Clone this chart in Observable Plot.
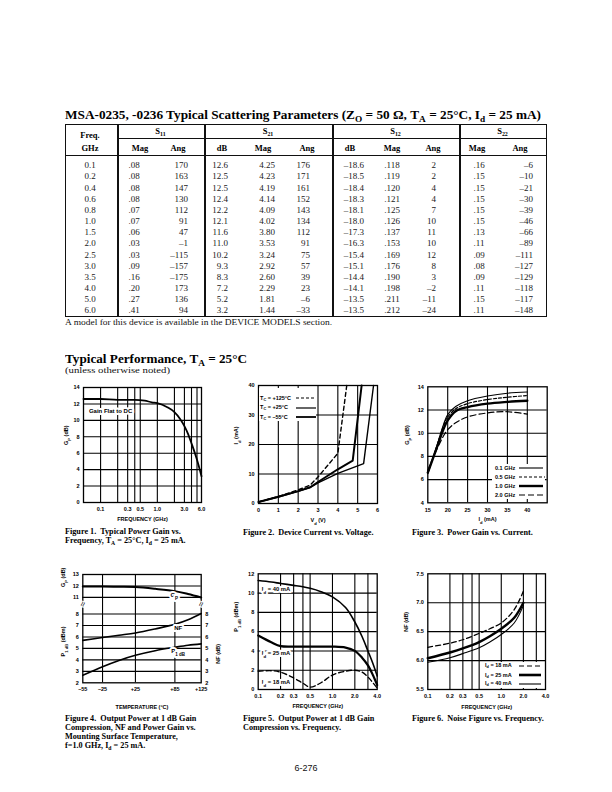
<!DOCTYPE html>
<html><head><meta charset="utf-8">
<script src="https://cdn.jsdelivr.net/npm/d3@7"></script>
<script src="https://cdn.jsdelivr.net/npm/@observablehq/plot@0.6"></script>
<style>
body{margin:0;background:#fff;}
#page{position:relative;width:612px;height:792px;overflow:hidden;background:#fff;color:#111;}
.abs{position:absolute;white-space:nowrap;}
.serif{font-family:"Liberation Serif","Times New Roman",serif;}
.bold{font-weight:bold;}
.ln{position:absolute;background:#111;}
sub{font-size:70%;vertical-align:baseline;position:relative;top:0.3em;}
.legend{position:absolute;background:#fff;font-family:"Liberation Sans",Arial,sans-serif;font-weight:bold;font-size:5.5px;color:#000;}
.legend div{position:absolute;white-space:nowrap;line-height:7px;}
</style></head><body><div id="page"></div>
<script>
// ---------- Table data ----------
const freqs  = [0.1,0.2,0.4,0.6,0.8,1.0,1.5,2.0,2.5,3.0,3.5,4.0,5.0,6.0];
const s11Mag = [.08,.08,.08,.08,.07,.07,.06,.03,.03,.09,.16,.20,.27,.41];
const s11Ang = [170,163,147,130,112,91,47,-1,-115,-157,-175,173,136,94];
const s21dB  = [12.6,12.5,12.5,12.4,12.2,12.1,11.6,11.0,10.2,9.3,8.3,7.2,5.2,3.2];
const s21Mag = [4.25,4.23,4.19,4.14,4.09,4.02,3.80,3.53,3.24,2.92,2.60,2.29,1.81,1.44];
const s21Ang = [176,171,161,152,143,134,112,91,75,57,39,23,-6,-33];
const s12dB  = [-18.6,-18.5,-18.4,-18.3,-18.1,-18.0,-17.3,-16.3,-15.4,-15.1,-14.4,-14.1,-13.5,-13.5];
const s12Mag = [.118,.119,.120,.121,.125,.126,.137,.153,.169,.176,.190,.198,.211,.212];
const s12Ang = [2,2,4,4,7,10,11,10,12,8,3,-2,-11,-24];
const s22Mag = [.16,.15,.15,.15,.15,.15,.13,.11,.09,.08,.09,.11,.15,.11];
const s22Ang = [-6,-10,-21,-30,-39,-46,-66,-89,-111,-127,-129,-118,-117,-148];

// ---------- Figure 1: Gain vs frequency ----------
const fig1Freq = [0.05, ...freqs];
const fig1Gain = [12.6, ...s21dB];
const fig1TicksX = [0.1,0.3,0.5,1.0,3.0,6.0];
const fig1GridX = [0.1,0.2,0.3,0.4,0.5,1,2,3,4,5];
const fig1TicksY = [0,2,4,6,8,10,12,14];

// ---------- Figure 2: Id vs Vd ----------
const fig2V125 = [0,1,2,2.6,3,3.5,4.0,4.45];
const fig2I125 = [0.5,2.4,4.6,6.2,9.0,13.0,17.0,40];
const fig2V25  = [0,1,2,2.6,3,4,4.75,5.2];
const fig2I25  = [0.5,2.3,4.2,5.5,7.3,11.6,14.5,40];
const fig2V55  = [0,1,2,2.6,3,4,5.3,5.8];
const fig2I55  = [0.5,2.2,4.1,5.4,7.0,10.2,13.5,40];
const fig2TicksX = [0,1,2,3,4,5,6];
const fig2TicksY = [0,10,20,30,40];

// ---------- Figure 3: Gp vs Id ----------
const fig3Id  = [15,17,19,20,22,25,30,35,40];
const fig3G01 = [6.5,8.6,10.8,11.6,12.3,12.8,13.2,13.45,13.55];
const fig3G05 = [6.6,8.6,10.7,11.4,12.1,12.55,12.9,13.1,13.25];
const fig3G10 = [6.6,8.5,10.4,11.1,11.9,12.25,12.55,12.7,12.8];
const fig3G20 = [6.8,8.4,9.8,10.3,10.9,11.4,11.75,11.85,11.65];
const fig3TicksX = [15,20,25,30,35,40];
const fig3TicksY = [4,6,8,10,12,14];

// ---------- Figure 4: vs temperature ----------
const fig4Temp = [-55,-25,0,25,55,85,105,125];
const fig4Gp   = [11.95,11.95,11.93,11.9,11.75,11.55,11.3,11.0];
const fig4NF   = [5.7,5.95,6.15,6.35,6.7,7.1,7.5,8.05];
const fig4P1   = [2.65,3.4,3.95,4.4,4.8,5.1,5.28,5.4];
const fig4TicksX = [-55,-25,25,85,125];
const fig4TicksLow = [2,3,4,5,6,7,8];
const fig4TicksGp = [11,12,13];
const GP_SHIFT = 1.55; // axis break offset for the Gp section

// ---------- Figure 5: P1dB vs frequency ----------
const fig5Freq = [0.1,0.15,0.2,0.3,0.4,0.5,0.7,1.0,1.5,2.0,2.5,3.0,3.5,4.0];
const fig5P40  = [11.3,11.15,11.0,10.8,10.65,10.5,10.15,9.6,8.5,7.0,5.5,4.0,2.7,1.4];
const fig5P25  = [5.6,4.9,4.5,4.45,4.45,4.45,4.45,4.45,4.35,4.0,3.3,2.5,1.5,0.45];
const fig5P18  = [1.9,1.95,1.8,1.2,0.65,0.25,0.7,1.5,1.9,2.0,1.8,1.3,0.7,0.15];
const logTicks = [0.1,0.2,0.3,0.5,1.0,2.0,4.0];
const logGrid  = [0.2,0.3,0.4,0.5,1,2,3];
const fig5TicksY = [0,2,4,6,8,10,12];

// ---------- Figure 6: NF vs frequency ----------
const fig6Freq = [0.1,0.2,0.3,0.5,0.7,1.0,1.5,2.0];
const fig6NF18 = [6.23,6.3,6.36,6.47,6.55,6.65,6.88,7.2];
const fig6NF25 = [6.04,6.14,6.21,6.32,6.42,6.55,6.74,7.0];
const fig6NF40 = [5.97,6.05,6.12,6.22,6.32,6.45,6.65,6.95];
const fig6TicksY = [5.5,6.0,6.5,7.0,7.5];

// ================= rendering =================
const page = document.getElementById("page");
const FONT = '"Liberation Sans", Arial, Helvetica, sans-serif';
const STYLE = {fontFamily: FONT, fontSize: "5.5px", fontWeight: "bold", background: "transparent", overflow: "visible", color: "#000"};
const G = {stroke: "#000", strokeWidth: 1.1};
const zip = (xs, ys) => xs.map((x, i) => ({x, y: ys[i]}));
// tick labels along the bottom of a log axis, drawn as text at the scale positions
const logAxisX = ticks => Plot.text(ticks, {x: d => d, text: d => d.toFixed(1), frameAnchor: "bottom", dy: 8, fill: "#000"});

function html(cls, left, top, inner, extra = "") {
  const d = document.createElement("div");
  d.className = "abs " + cls;
  d.style.left = left + "px"; d.style.top = top + "px";
  d.style.cssText += extra;
  d.innerHTML = inner;
  page.appendChild(d);
  return d;
}
function fit(el, w) {
  const cw = el.getBoundingClientRect().width;
  if (!cw) return;
  el.style.transformOrigin = "0 50%";
  el.style.transform = `scaleX(${w / cw})`;
}
function rule(x, y, w, h) {
  const d = document.createElement("div");
  d.className = "ln";
  Object.assign(d.style, {left: x + "px", top: y + "px", width: w + "px", height: h + "px"});
  page.appendChild(d);
}
function subify(svg) {
  svg.querySelectorAll("text, tspan").forEach(t => {
    if (t.children.length) return;
    const s = t.textContent;
    if (!s.includes("_{")) return;
    t.textContent = "";
    const re = /_\{([^}]*)\}/g; let last = 0, m;
    while ((m = re.exec(s))) {
      if (m.index > last) t.appendChild(document.createTextNode(s.slice(last, m.index)));
      const ts = document.createElementNS("http://www.w3.org/2000/svg", "tspan");
      ts.setAttribute("baseline-shift", "sub");
      ts.setAttribute("font-size", "75%");
      ts.textContent = m[1];
      t.appendChild(ts);
      last = re.lastIndex;
    }
    if (last < s.length) t.appendChild(document.createTextNode(s.slice(last)));
  });
}
function place(svg, left, top) {
  svg.style.position = "absolute";
  svg.style.left = left + "px"; svg.style.top = top + "px";
  subify(svg);
  page.appendChild(svg);
}
function legend(left, top, w, h, rows) {
  const box = document.createElement("div");
  box.className = "legend";
  Object.assign(box.style, {left: left + "px", top: top + "px", width: w + "px", height: h + "px"});
  rows.forEach(r => {
    const t = document.createElement("div");
    t.style.left = r.tx + "px"; t.style.top = (r.y - 3.5) + "px";
    t.innerHTML = r.label;
    box.appendChild(t);
    const s = document.createElementNS("http://www.w3.org/2000/svg", "svg");
    s.setAttribute("width", r.lw); s.setAttribute("height", 6);
    s.style.position = "absolute"; s.style.left = r.lx + "px"; s.style.top = (r.y - 3) + "px";
    s.innerHTML = `<line x1="0" y1="3" x2="${r.lw}" y2="3" stroke="#000" stroke-width="${r.sw}" ${r.dash ? `stroke-dasharray="${r.dash}"` : ""}/>`;
    box.appendChild(s);
  });
  page.appendChild(box);
}

// ---------- Title ----------
const title = html("serif bold", 65, 108, "MSA-0235, -0236 Typical Scattering Parameters (Z<sub>O</sub> = 50 Ω, T<sub>A</sub> = 25°C, I<sub>d</sub> = 25 mA)", "font-size:12.5px;line-height:15px;color:#000;");

// ---------- Table ----------
const TOP = 124, BOT = 316, L = 65, R = 546;
rule(L, TOP, R - L, 1.3); rule(L, BOT, R - L + 1, 1.3);
rule(L, TOP, 1.2, BOT - TOP); rule(R, TOP, 1.2, BOT - TOP);
[117, 204, 332, 459].forEach(x => rule(x, TOP, 1.5, BOT - TOP));
rule(117, 138, R - 117, 0.9);
rule(L, 154.5, R - L, 1.5);

const hdr = (x, y, t) => html("serif bold", x - 40, y - 6, t, "width:80px;text-align:center;font-size:8.5px;line-height:12px;color:#000;");
hdr(90, 134.5, "Freq."); hdr(90, 147.5, "GHz");
hdr(160.5, 131, "S<sub>11</sub>"); hdr(268, 131, "S<sub>21</sub>"); hdr(395.5, 131, "S<sub>12</sub>"); hdr(502.5, 131, "S<sub>22</sub>");
[[140,"Mag"],[178,"Ang"],[222,"dB"],[263,"Mag"],[307,"Ang"],[350,"dB"],[392,"Mag"],[433,"Ang"],[477,"Mag"],[520,"Ang"]].forEach(([x,t]) => hdr(x, 147.5, t));

const neg = v => (v < 0 ? "–" : "") + Math.abs(v);
const ang = v => neg(v);
const db = v => (v < 0 ? "–" : "") + Math.abs(v).toFixed(1);
const mag2 = v => v.toFixed(2).slice(1);
const mag3 = v => v.toFixed(3).slice(1);
const cols = [
  {v: freqs, f: d => d.toFixed(1), x: 90, a: "c"},
  {v: s11Mag, f: mag2, x: 134, a: "c"},
  {v: s11Ang, f: ang, x: 188, a: "r"},
  {v: s21dB, f: db, x: 228, a: "r"},
  {v: s21Mag, f: d => d.toFixed(2), x: 267, a: "c"},
  {v: s21Ang, f: ang, x: 310, a: "r"},
  {v: s12dB, f: db, x: 364, a: "r"},
  {v: s12Mag, f: mag3, x: 392, a: "c"},
  {v: s12Ang, f: ang, x: 436, a: "r"},
  {v: s22Mag, f: mag2, x: 479, a: "c"},
  {v: s22Ang, f: ang, x: 533, a: "r"},
];
cols.forEach(c => c.v.forEach((v, i) => {
  const y = 165.3 + i * 11.15;
  const left = c.a === "c" ? c.x - 40 : c.x - 80;
  html("serif", left, y - 6, c.f(v), `width:80px;text-align:${c.a === "c" ? "center" : "right"};font-size:9px;line-height:12px;color:#1a1a1a;`);
}));
const note = html("serif", 65, 316.5, "A model for this device is available in the DEVICE MODELS section.", "font-size:8.6px;line-height:11px;");

// ---------- Section heading ----------
const sec = html("serif bold", 65, 352, "Typical Performance, T<sub>A</sub> = 25°C", "font-size:12.5px;line-height:15px;color:#000;");
const sub1 = html("serif", 65, 365, "(unless otherwise noted)", "font-size:8.8px;line-height:11px;");

// ---------- Figure 1 ----------
place(Plot.plot({
  width: 155, height: 145, marginLeft: 28, marginRight: 9, marginTop: 7, marginBottom: 23,
  style: STYLE,
  x: {type: "log", domain: [0.05, 6], axis: null}, y: {domain: [0, 14]},
  marks: [
    Plot.ruleX(fig1GridX, G),
    Plot.ruleY(fig1TicksY.slice(1, -1), G),
    Plot.text(["Gain Flat to DC"], {x: 0.15, y: 11.1, fontSize: 6, fill: "#000", stroke: "#fff", strokeWidth: 4, paintOrder: "stroke"}),
    Plot.line(zip(fig1Freq, fig1Gain), {x: "x", y: "y", curve: "monotone-x", stroke: "#000", strokeWidth: 1.8}),
    Plot.frame({stroke: "#000", strokeWidth: 1.3}),
    logAxisX(fig1TicksX),
    Plot.axisY(fig1TicksY, {tickSize: 0, tickPadding: 4, label: null}),
    Plot.text(["FREQUENCY (GHz)"], {frameAnchor: "bottom", dy: 18}),
    Plot.text(["G_{P} (dB)"], {frameAnchor: "left", rotate: -90, dx: -17})
  ]
}), 55, 380);

// ---------- Figure 2 ----------
place(Plot.plot({
  width: 155, height: 147, marginLeft: 30, marginRight: 6, marginTop: 7, marginBottom: 22,
  style: STYLE,
  x: {domain: [0, 6]}, y: {domain: [0, 40]},
  marks: [
    Plot.ruleX(fig2TicksX.slice(1, -1), G),
    Plot.ruleY(fig2TicksY.slice(1, -1), G),
    Plot.line(zip(fig2V125, fig2I125), {x: "x", y: "y", stroke: "#000", strokeWidth: 1.4, strokeDasharray: "4,3"}),
    Plot.line(zip(fig2V55, fig2I55), {x: "x", y: "y", stroke: "#000", strokeWidth: 1.4}),
    Plot.line(zip(fig2V25, fig2I25), {x: "x", y: "y", stroke: "#000", strokeWidth: 2}),
    Plot.frame({stroke: "#000", strokeWidth: 1.3}),
    Plot.axisX(fig2TicksX, {tickSize: 0, tickPadding: 5, label: null}),
    Plot.axisY(fig2TicksY, {tickSize: 0, tickPadding: 4, label: null}),
    Plot.text(["V_{d} (V)"], {frameAnchor: "bottom", dy: 18}),
    Plot.text(["I_{d} (mA)"], {frameAnchor: "left", rotate: -90, dx: -22})
  ]
}), 228, 378);
legend(259, 388, 57, 33, [
  {label: "T<sub>C</sub> = +125°C", tx: 1, y: 10, lx: 37, lw: 20, sw: 1.2, dash: "3,2"},
  {label: "T<sub>C</sub> = +25°C", tx: 1, y: 19.5, lx: 37, lw: 20, sw: 1.2},
  {label: "T<sub>C</sub> = –55°C", tx: 1, y: 29, lx: 37, lw: 20, sw: 1.8}
]);

// ---------- Figure 3 ----------
place(Plot.plot({
  width: 155, height: 146, marginLeft: 30.3, marginRight: 5.3, marginTop: 8.3, marginBottom: 21.7,
  style: STYLE,
  x: {domain: [15, 45]}, y: {domain: [4, 14]},
  marks: [
    Plot.ruleX(fig3TicksX.slice(1), G),
    Plot.ruleY(fig3TicksY.slice(1, -1), G),
    Plot.line(zip(fig3Id, fig3G20), {x: "x", y: "y", curve: "catmull-rom", stroke: "#000", strokeWidth: 1.2, strokeDasharray: "6,3"}),
    Plot.line(zip(fig3Id, fig3G10), {x: "x", y: "y", curve: "catmull-rom", stroke: "#000", strokeWidth: 2.4}),
    Plot.line(zip(fig3Id, fig3G05), {x: "x", y: "y", curve: "catmull-rom", stroke: "#000", strokeWidth: 1.2, strokeDasharray: "3,2"}),
    Plot.line(zip(fig3Id, fig3G01), {x: "x", y: "y", curve: "catmull-rom", stroke: "#000", strokeWidth: 1.1}),
    Plot.frame({stroke: "#000", strokeWidth: 1.3}),
    Plot.axisX(fig3TicksX, {tickSize: 0, tickPadding: 5, label: null}),
    Plot.axisY(fig3TicksY, {tickSize: 0, tickPadding: 4, label: null}),
    Plot.text(["I_{d} (mA)"], {frameAnchor: "bottom", dy: 18}),
    Plot.text(["G_{P} (dB)"], {frameAnchor: "left", rotate: -90, dx: -21})
  ]
}), 397, 378);
legend(492, 464, 53, 35, [
  {label: "0.1 GHz", tx: 3, y: 4, lx: 27, lw: 24, sw: 1.1},
  {label: "0.5 GHz", tx: 3, y: 13, lx: 27, lw: 26, sw: 1.1, dash: "3,2"},
  {label: "1.0 GHz", tx: 3, y: 22, lx: 27, lw: 24, sw: 2.4},
  {label: "2.0 GHz", tx: 3, y: 31, lx: 27, lw: 24, sw: 1.1, dash: "6,3"}
]);

// ---------- Figure 4 ----------
const gpY = d => d.y - GP_SHIFT;
place(Plot.plot({
  width: 175, height: 147, marginLeft: 32.3, marginRight: 24.3, marginTop: 8, marginBottom: 30.7,
  style: STYLE,
  x: {domain: [-55, 125]}, y: {domain: [2, 13 - GP_SHIFT]},
  marks: [
    Plot.ruleX(fig4TicksX.slice(1, -1), G),
    Plot.ruleY(fig4TicksLow.slice(1), G),
    Plot.ruleY(fig4TicksGp.slice(0, 2), {...G, y: d => d - GP_SHIFT}),
    Plot.line(zip(fig4Temp, fig4Gp), {x: "x", y: gpY, curve: "catmull-rom", stroke: "#000", strokeWidth: 2}),
    Plot.line(zip(fig4Temp, fig4NF), {x: "x", y: "y", curve: "catmull-rom", stroke: "#000", strokeWidth: 1.6}),
    Plot.line(zip(fig4Temp, fig4P1), {x: "x", y: "y", curve: "catmull-rom", stroke: "#000", strokeWidth: 1.6}),
    Plot.frame({stroke: "#000", strokeWidth: 1.3}),
    Plot.text(["≈", "≈"], {x: (d, i) => i ? 125 : -55, y: 8.85, fontSize: 9, fontWeight: "normal", rotate: -70, fill: "#000", stroke: "#fff", strokeWidth: 2, paintOrder: "stroke"}),
    Plot.text(["G_{P}"], {x: 84, y: 11.2 - GP_SHIFT, fontSize: 6, fill: "#000", stroke: "#fff", strokeWidth: 4, paintOrder: "stroke"}),
    Plot.text(["NF"], {x: 90, y: 6.78, fontSize: 6, fill: "#000", stroke: "#fff", strokeWidth: 4, paintOrder: "stroke"}),
    Plot.text(["P_{1 dB}"], {x: 90, y: 4.8, fontSize: 6, fill: "#000", stroke: "#fff", strokeWidth: 4, paintOrder: "stroke"}),
    Plot.axisX(fig4TicksX, {tickSize: 0, tickPadding: 4, tickFormat: d => (d < 0 ? "–" : "+") + Math.abs(d), label: null}),
    Plot.axisY(fig4TicksLow, {tickSize: 0, tickPadding: 4, label: null}),
    Plot.axisY(fig4TicksLow, {anchor: "right", tickSize: 0, tickPadding: 4, label: null}),
    Plot.text(fig4TicksGp, {y: d => d - GP_SHIFT, text: d => String(d), frameAnchor: "left", textAnchor: "end", dx: -4}),
    Plot.text(["TEMPERATURE (°C)"], {frameAnchor: "bottom", dy: 26.5}),
    Plot.text(["G_{P} (dB)"], {y: 10.35, frameAnchor: "left", rotate: -90, dx: -20}),
    Plot.text(["P_{1 dB} (dBm)"], {y: 4.3, frameAnchor: "left", rotate: -90, dx: -20}),
    Plot.text(["NF (dB)"], {y: 5.4, frameAnchor: "right", rotate: -90, dx: 17})
  ]
}), 50, 566);

// ---------- Figure 5 ----------
place(Plot.plot({
  width: 155, height: 147, marginLeft: 29.7, marginRight: 6.3, marginTop: 7.3, marginBottom: 24,
  style: STYLE,
  x: {type: "log", domain: [0.1, 4], axis: null}, y: {domain: [0, 12]},
  marks: [
    Plot.ruleX(logGrid, G),
    Plot.ruleY(fig5TicksY.slice(1, -1), G),
    Plot.text(["I_{d} = 40 mA", "I_{d} = 25 mA", "I_{d} = 18 mA"], {x: 0.112, y: [10.45, 3.75, 0.75], textAnchor: "start", fontSize: 5.8, fill: "#000", stroke: "#fff", strokeWidth: 4, paintOrder: "stroke"}),
    Plot.line(zip(fig5Freq, fig5P40), {x: "x", y: "y", curve: "catmull-rom", stroke: "#000", strokeWidth: 1.6}),
    Plot.line(zip(fig5Freq, fig5P25), {x: "x", y: "y", curve: "catmull-rom", stroke: "#000", strokeWidth: 2.2}),
    Plot.line(zip(fig5Freq, fig5P18), {x: "x", y: "y", curve: "catmull-rom", stroke: "#000", strokeWidth: 1.4, strokeDasharray: "5,3"}),
    Plot.frame({stroke: "#000", strokeWidth: 1.3}),
    logAxisX(logTicks),
    Plot.axisY(fig5TicksY, {tickSize: 0, tickPadding: 4, label: null}),
    Plot.text(["FREQUENCY (GHz)"], {frameAnchor: "bottom", dy: 18}),
    Plot.text(["P_{1 dB} (dBm)"], {frameAnchor: "left", rotate: -90, dx: -22})
  ]
}), 228, 566);

// ---------- Figure 6 ----------
place(Plot.plot({
  width: 155, height: 147, marginLeft: 30.3, marginRight: 7, marginTop: 7.3, marginBottom: 24,
  style: STYLE,
  x: {type: "log", domain: [0.1, 4], axis: null}, y: {domain: [5.5, 7.5]},
  marks: [
    Plot.ruleX(logGrid, G),
    Plot.ruleY(fig6TicksY.slice(1, -1), G),
    Plot.line(zip(fig6Freq, fig6NF40), {x: "x", y: "y", curve: "catmull-rom", stroke: "#000", strokeWidth: 1.1}),
    Plot.line(zip(fig6Freq, fig6NF25), {x: "x", y: "y", curve: "catmull-rom", stroke: "#000", strokeWidth: 2.4}),
    Plot.line(zip(fig6Freq, fig6NF18), {x: "x", y: "y", curve: "catmull-rom", stroke: "#000", strokeWidth: 1.3, strokeDasharray: "5,3"}),
    Plot.frame({stroke: "#000", strokeWidth: 1.3}),
    logAxisX(logTicks),
    Plot.axisY(fig6TicksY, {tickSize: 0, tickPadding: 4, tickFormat: d => d.toFixed(1), label: null}),
    Plot.text(["FREQUENCY (GHz)"], {frameAnchor: "bottom", dy: 19}),
    Plot.text(["NF (dB)"], {frameAnchor: "left", rotate: -90, dx: -22})
  ]
}), 397, 566);
legend(481, 661.5, 63, 26, [
  {label: "I<sub>d</sub> = 18 mA", tx: 4, y: 4, lx: 38, lw: 22, sw: 1.2, dash: "5,3"},
  {label: "I<sub>d</sub> = 25 mA", tx: 4, y: 13.5, lx: 38, lw: 22, sw: 2.6},
  {label: "I<sub>d</sub> = 40 mA", tx: 4, y: 22, lx: 38, lw: 22, sw: 1.1}
]);

// ---------- Captions ----------
const cap = (x, y, t) => html("serif bold", x, y - 5, t, "font-size:8.2px;line-height:10px;color:#000;");
cap(65, 532, "Figure 1.&nbsp; Typical Power Gain vs.");
cap(65, 541, "Frequency, T<sub>A</sub> = 25°C, I<sub>d</sub> = 25 mA.");
cap(243, 533, "Figure 2.&nbsp; Device Current vs. Voltage.");
cap(412, 533, "Figure 3.&nbsp; Power Gain vs. Current.");
cap(65, 719, "Figure 4.&nbsp; Output Power at 1 dB Gain");
cap(65, 728, "Compression, NF and Power Gain vs.");
cap(65, 737, "Mounting Surface Temperature,");
cap(65, 746, "f=1.0 GHz, I<sub>d</sub> = 25 mA.");
cap(243, 719, "Figure 5.&nbsp; Output Power at 1 dB Gain");
cap(243, 728, "Compression vs. Frequency.");
cap(412, 719, "Figure 6.&nbsp; Noise Figure vs. Frequency.");
html("", 286, 762, "6-276", "width:40px;text-align:center;font-family:'Liberation Sans',Arial,sans-serif;font-size:9px;line-height:12px;");

// fit widths of serif headings to the reference
fit(title, 476); fit(sec, 182); fit(sub1, 105); fit(note, 267);
</script></body></html>
